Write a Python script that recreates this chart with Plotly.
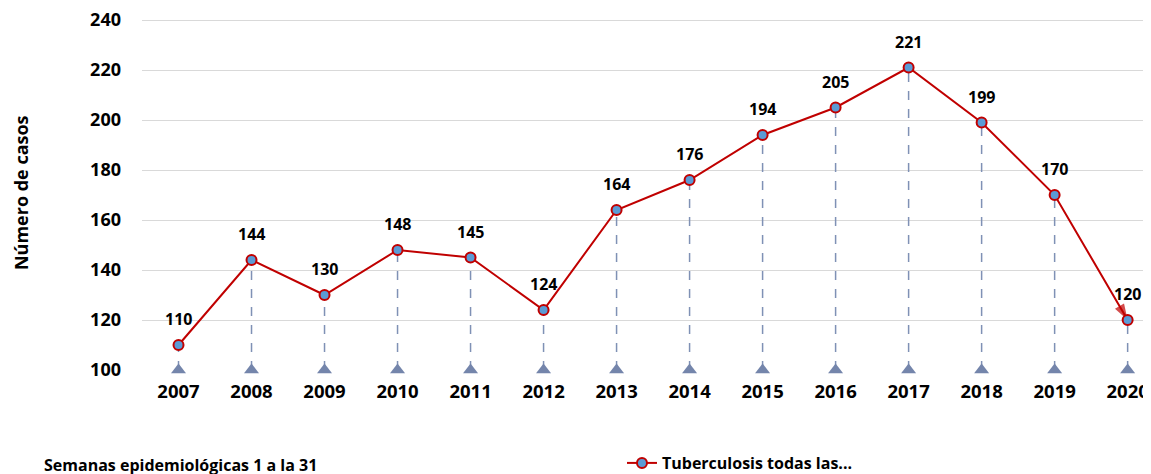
import plotly.graph_objects as go

years = ["2007", "2008", "2009", "2010", "2011", "2012", "2013",
         "2014", "2015", "2016", "2017", "2018", "2019", "2020"]
cases = [110, 144, 130, 148, 145, 124, 164, 176, 194, 205, 221, 199, 170, 120]
y_ticks = [100, 120, 140, 160, 180, 200, 220, 240]
series_name = "Tuberculosis todas las..."
y_title = "Número de casos"
note_text = "Semanas epidemiológicas 1 a la 31"

FONT = "Open Sans"
idx = list(range(len(years)))
base = y_ticks[0]

fig = go.Figure()

# dashed drop lines from each point to the base
drop_x, drop_y = [], []
for i, v in zip(idx, cases):
    drop_x += [i, i, None]
    drop_y += [base, v, None]
fig.add_trace(go.Scatter(
    x=drop_x, y=drop_y, mode="lines",
    line=dict(color="#7f91b5", width=1.5, dash="dash"),
    hoverinfo="skip", showlegend=False))

# triangles at the base
fig.add_trace(go.Scatter(
    x=idx, y=[base] * len(idx), mode="markers",
    marker=dict(symbol="triangle-up", size=13, color="#7485ab"),
    cliponaxis=False, hoverinfo="skip", showlegend=False))

# arrow head on last segment
fig.add_trace(go.Scatter(
    x=idx[-2:], y=cases[-2:], mode="markers",
    marker=dict(symbol="arrow", angleref="previous", size=[0, 17],
                color="#c00000", line=dict(width=0)),
    hoverinfo="skip", showlegend=False))

# main series
fig.add_trace(go.Scatter(
    x=idx, y=cases, mode="lines+markers", name=series_name,
    line=dict(color="#c00000", width=2),
    marker=dict(symbol="circle", size=10, color="#5b9bd5",
                line=dict(color="#c00000", width=2)),
    cliponaxis=False))

for i, v in zip(idx, cases):
    fig.add_annotation(x=i, y=v, text=str(v), showarrow=False,
                       yshift=26, font=dict(family=FONT, size=16, color="#000000", weight="bold"))

fig.add_annotation(xref="paper", yref="paper", x=-0.0991, y=-0.2676,
                   xanchor="left", yanchor="middle", showarrow=False,
                   text=note_text,
                   font=dict(family=FONT, size=16, color="#000000", weight="bold"))

fig.add_annotation(xref="paper", yref="paper", x=-0.1200, y=0.501,
                   xanchor="center", yanchor="middle", showarrow=False,
                   textangle=-90, text=y_title,
                   font=dict(family=FONT, size=18, color="#000000", weight="bold"))

fig.update_layout(
    width=1143, height=474,
    margin=dict(l=134, r=0, t=7, b=112),
    paper_bgcolor="white", plot_bgcolor="white",
    font=dict(family=FONT, color="#000000"),
    showlegend=True,
    legend=dict(orientation="h", x=0.4757, y=-0.262, xanchor="left", yanchor="middle",
                font=dict(family=FONT, size=16, color="#000000", weight="bold"),
                bgcolor="rgba(0,0,0,0)"),
    xaxis=dict(range=[-0.5, 13.32], tickmode="array", tickvals=idx, ticktext=years,
               showgrid=False, zeroline=False, showline=False, ticks="",
               tickfont=dict(family=FONT, size=18.5, color="#000000", weight="bold"),
               ticklabelstandoff=8, ticklabeloverflow="allow"),
    yaxis=dict(range=[100, 242], tickmode="array", tickvals=y_ticks,
               showgrid=True, gridcolor="#d9d9d9", gridwidth=1,
               zeroline=False, showline=False, ticks="",
               tickfont=dict(family=FONT, size=18, color="#000000", weight="bold"),
               ticklabelstandoff=20, ticklabeloverflow="allow"),
)

fig.write_html("out.html")
